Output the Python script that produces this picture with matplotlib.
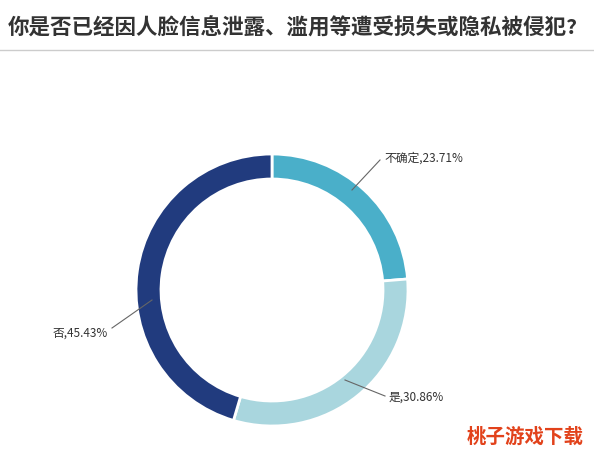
import matplotlib
matplotlib.use('Agg')
import matplotlib.pyplot as plt

plt.rcParams['font.family'] = ['Noto Sans CJK SC', 'DejaVu Sans']

title = '你是否已经因人脸信息泄露、滥用等遭受损失或隐私被侵犯?'
labels = ['不确定', '是', '否']
shares = [23.71, 30.86, 45.43]
colors = ['#4aafc9', '#a9d6de', '#213b7e']

W, H = 594, 453
fig = plt.figure(figsize=(W / 100, H / 100), dpi=100)
ax = fig.add_axes([0, 0, 1, 1])

cx, cy, r = 272, H - 290, 136
ax.pie(shares, colors=colors, startangle=90, counterclock=False,
       center=(cx, cy), radius=r, frame=True,
       wedgeprops=dict(width=25, edgecolor='white', linewidth=2))
ax.set_xlim(0, W)
ax.set_ylim(0, H)
ax.set_aspect('equal')
ax.axis('off')

fig.text(8 / W, 1 - 28 / H, title, fontsize=15.5, fontweight='bold',
         color='#333333', va='center', ha='left')
ax.plot([0, W], [H - 50, H - 50], color='#cccccc', lw=1)

# label positions: (line start, line end, text anchor)
lab_pos = [((352, 190), (380, 160), (384, 158), 'left'),
           ((345, 380), (385, 396), (389, 397), 'left'),
           ((152, 300), (112, 328), (108, 333), 'right')]
for name, val, (p0, p1, pt, ha) in zip(labels, shares, lab_pos):
    ax.plot([p0[0], p1[0]], [H - p0[1], H - p1[1]], color='#666666', lw=0.8)
    ax.text(pt[0], H - pt[1], '%s,%.2f%%' % (name, val), fontsize=8.5,
            color='#333333', ha=ha, va='center')

fig.text(525 / W, 1 - 437 / H, '桃子游戏下载', fontsize=14, fontweight='bold',
         color='#e2421b', ha='center', va='center')

fig.savefig('out.png', dpi=100)
